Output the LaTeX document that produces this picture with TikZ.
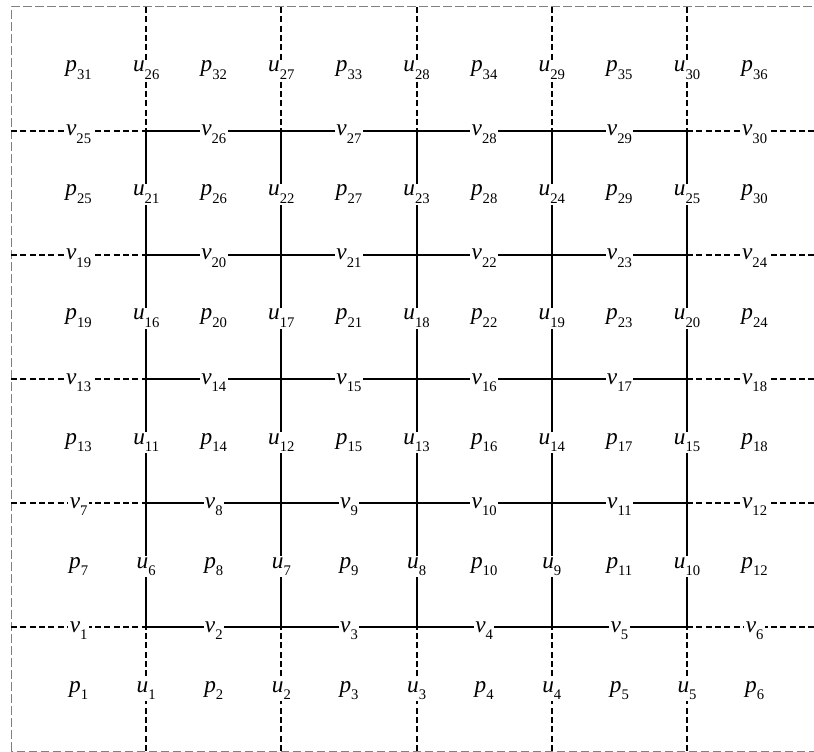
\documentclass[tikz,border=0pt]{standalone}
\usepackage{fontspec}
\setmainfont{Liberation Serif}
\newcommand{\sublab}[2]{\textit{#1}\raisebox{-5.5pt}{\fontsize{11}{12}\selectfont #2}}
\tikzset{
  lab/.style={fill=white,inner sep=1pt,anchor=base,font=\fontsize{17.5}{19}\selectfont},
  solidln/.style={line width=1.4pt},
  dashln/.style={line width=1.4pt,dash pattern=on 4.5pt off 2.5pt},
  frame/.style={gray,line width=0.75pt,dash pattern=on 6.5pt off 2.5pt}
}

\begin{document}
\begin{tikzpicture}[x=0.75pt,y=-0.75pt]
\useasboundingbox (0,0) rectangle (814,752);
\clip (0,0) rectangle (814,752);
% grid corners, j=0 is the bottom line
\foreach \i in {0,...,6}
  \foreach \j in {0,...,6}
    \coordinate (g\i\j) at ({11+135.2*\i},{751-124*\j});
\draw[frame] (g00) rectangle (g66);
% vertical lines
\foreach \i in {1,...,5}{
  \draw[dashln] (g\i0) -- (g\i1);
  \draw[solidln] (g\i1) -- (g\i5);
  \draw[dashln] (g\i6) -- (g\i5);
}
% horizontal lines
\foreach \j in {1,...,5}{
  \draw[dashln] (g0\j) -- (g1\j);
  \draw[solidln] (g1\j) -- (g5\j);
  \draw[dashln] (g5\j) -- (g6\j);
}
% cells p and vertical edges u
\foreach \row in {1,...,6}{
  \foreach \col in {1,...,6}{
    \pgfmathtruncatemacro{\n}{6*(\row-1)+\col}
    \node[lab] (p\n) at ({11+135.2*(\col-0.5)},{754-124*(\row-0.5)}) {\sublab{p}{\n}};
  }
  \foreach \k in {1,...,5}{
    \pgfmathtruncatemacro{\n}{5*(\row-1)+\k}
    \node[lab] (u\n) at ({11+135.2*\k},{754-124*(\row-0.5)}) {\sublab{u}{\n}};
  }
}
% horizontal edges v
\foreach \hl in {1,...,5}
  \foreach \col in {1,...,6}{
    \pgfmathtruncatemacro{\n}{6*(\hl-1)+\col}
    \node[lab] (v\n) at ({11+135.2*(\col-0.5)},{756-124*\hl}) {\sublab{v}{\n}};
  }
\end{tikzpicture}
\end{document}
